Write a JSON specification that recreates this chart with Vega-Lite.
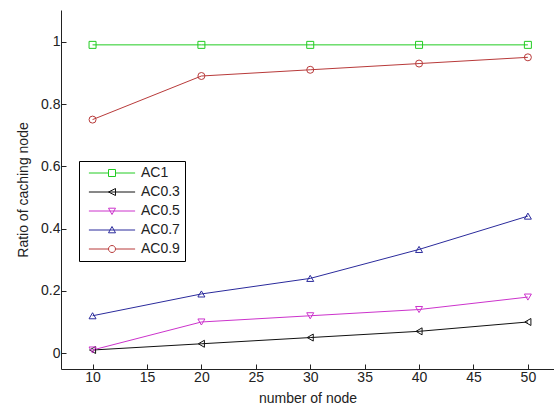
{
  "$schema": "https://vega.github.io/schema/vega-lite/v6.json",
  "width": 493,
  "height": 359,
  "autosize": {"type": "none"},
  "padding": {"left": 61, "top": 10, "right": 0, "bottom": 36},
  "background": "white",
  "config": {
    "view": {"stroke": null},
    "font": "Liberation Sans",
    "axis": {
      "grid": false,
      "domainColor": "#222222",
      "tickColor": "#222222",
      "tickSize": -5,
      "labelFont": "Liberation Sans",
      "labelFontSize": 14,
      "labelColor": "#222222",
      "titleFont": "Liberation Sans",
      "titleFontSize": 14,
      "titleFontWeight": "normal",
      "titleColor": "#222222"
    }
  },
  "data": {
    "values": [
      {"nodes": 10, "ratio": 0.99, "series": "AC1"},
      {"nodes": 20, "ratio": 0.99, "series": "AC1"},
      {"nodes": 30, "ratio": 0.99, "series": "AC1"},
      {"nodes": 40, "ratio": 0.99, "series": "AC1"},
      {"nodes": 50, "ratio": 0.99, "series": "AC1"},
      {"nodes": 10, "ratio": 0.01, "series": "AC0.3"},
      {"nodes": 20, "ratio": 0.03, "series": "AC0.3"},
      {"nodes": 30, "ratio": 0.05, "series": "AC0.3"},
      {"nodes": 40, "ratio": 0.07, "series": "AC0.3"},
      {"nodes": 50, "ratio": 0.10, "series": "AC0.3"},
      {"nodes": 10, "ratio": 0.01, "series": "AC0.5"},
      {"nodes": 20, "ratio": 0.10, "series": "AC0.5"},
      {"nodes": 30, "ratio": 0.12, "series": "AC0.5"},
      {"nodes": 40, "ratio": 0.14, "series": "AC0.5"},
      {"nodes": 50, "ratio": 0.18, "series": "AC0.5"},
      {"nodes": 10, "ratio": 0.12, "series": "AC0.7"},
      {"nodes": 20, "ratio": 0.19, "series": "AC0.7"},
      {"nodes": 30, "ratio": 0.24, "series": "AC0.7"},
      {"nodes": 40, "ratio": 0.333, "series": "AC0.7"},
      {"nodes": 50, "ratio": 0.44, "series": "AC0.7"},
      {"nodes": 10, "ratio": 0.75, "series": "AC0.9"},
      {"nodes": 20, "ratio": 0.89, "series": "AC0.9"},
      {"nodes": 30, "ratio": 0.91, "series": "AC0.9"},
      {"nodes": 40, "ratio": 0.93, "series": "AC0.9"},
      {"nodes": 50, "ratio": 0.95, "series": "AC0.9"}
    ]
  },
  "encoding": {
    "x": {
      "field": "nodes",
      "type": "quantitative",
      "scale": {"domain": [7.1, 52.4], "nice": false, "zero": false},
      "axis": {
        "title": "number of node",
        "values": [10, 15, 20, 25, 30, 35, 40, 45, 50],
        "labelPadding": 6,
        "titlePadding": 7
      }
    },
    "y": {
      "field": "ratio",
      "type": "quantitative",
      "scale": {"domain": [-0.051, 1.102], "nice": false, "zero": false},
      "axis": {
        "title": "Ratio of caching node",
        "values": [0, 0.2, 0.4, 0.6, 0.8, 1],
        "format": "~g",
        "labelPadding": 6,
        "titlePadding": 10
      }
    },
    "color": {
      "field": "series",
      "type": "nominal",
      "scale": {
        "domain": ["AC1", "AC0.3", "AC0.5", "AC0.7", "AC0.9"],
        "range": ["#22cc22", "#111111", "#cc33cc", "#2b2b9c", "#b83a3a"]
      },
      "legend": {
        "orient": "none",
        "legendX": 18,
        "legendY": 151,
        "title": null,
        "strokeColor": "black",
        "fillColor": "white",
        "padding": 5,
        "symbolSize": 49,
        "symbolStrokeWidth": 1,
        "symbolOpacity": 1,
        "labelFont": "Liberation Sans",
        "labelFontSize": 14,
        "labelColor": "#222222",
        "rowPadding": 5,
        "cornerRadius": 0,
        "encode": {
          "symbols": {
            "update": {
              "fill": {"value": "transparent"},
              "strokeWidth": {"value": 1},
              "size": {"value": 49},
              "x": {"value": 28},
              "shape": {"signal": "datum.value === 'AC1' ? 'M-6.6,0H-1M1,0H6.6M-1,-1H1V1H-1Z' : datum.value === 'AC0.3' ? 'M-6.6,0H6.6M-1,0L1,-1V1Z' : datum.value === 'AC0.5' ? 'M-6.6,0H6.6M-1,-0.8H1L0,1Z' : datum.value === 'AC0.7' ? 'M-6.6,0H6.6M0,-1L1,0.8H-1Z' : 'M-6.6,0H-1M1,0H6.6M1,0A1,1,0,1,1,-1,0A1,1,0,1,1,1,0Z'"}
            }
          },
          "labels": {
            "update": {
              "x": {"value": 57}
            }
          }
        }
      }
    },
    "shape": {
      "field": "series",
      "type": "nominal",
      "scale": {
        "domain": ["AC0.3", "AC0.5", "AC0.7", "AC0.9", "AC1"],
        "range": ["triangle-left", "triangle-down", "triangle-up", "circle", "square"]
      },
      "legend": null
    }
  },
  "layer": [
    {"mark": {"type": "line", "strokeWidth": 1}, "encoding": {"shape": null}},
    {"mark": {"type": "point", "filled": false, "size": 49, "strokeWidth": 1, "opacity": 1}}
  ]
}
